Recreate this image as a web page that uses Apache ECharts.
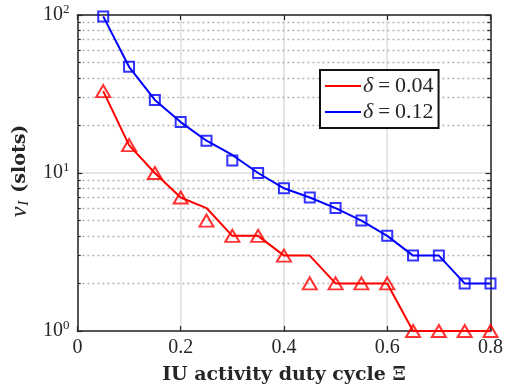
<!DOCTYPE html>
<html>
<head>
<meta charset="utf-8">
<script src="https://cdn.jsdelivr.net/npm/echarts@6/dist/echarts.min.js"></script>
<style>
  html, body { margin: 0; padding: 0; background: #fff; }
  #chart { width: 506px; height: 392px; }
</style>
</head>
<body>
<div id="chart"></div>
<script>
// Duty cycle of the IU activity (x axis)
const dutyCycle = [0.05, 0.1, 0.15, 0.2, 0.25, 0.3, 0.35, 0.4, 0.45, 0.5, 0.55, 0.6, 0.65, 0.7, 0.75, 0.8];
// delta = 0.04: curve and simulated points
const curveLow = [33, 15, 10, 7, 6, 4, 4, 3, 3, 2, 2, 2, 1, 1, 1, 1];
const pointsLow = [33, 15, 10, 7, 5, 4, 4, 3, 2, 2, 2, 2, 1, 1, 1, 1];
// delta = 0.12: curve and simulated points
const curveHigh = [98, 47, 29, 21, 16, 13, 10, 8, 7, 6, 5, 4, 3, 3, 2, 2];
const pointsHigh = [98, 47, 29, 21, 16, 12, 10, 8, 7, 6, 5, 4, 3, 3, 2, 2];
// Axis settings
const xTicks = [0, 0.2, 0.4, 0.6, 0.8];
const yMinorGrid = [2, 3, 4, 5, 6, 7, 8, 9, 20, 30, 40, 50, 60, 70, 80, 90];
const seriesNames = ['δ = 0.04', 'δ = 0.12'];

const ink = '#262626';
const serif = 'Liberation Serif';
const xMin = xTicks[0], xMax = xTicks[xTicks.length - 1];
const pair = (ys) => dutyCycle.map((x, i) => [x, ys[i]]);

// dotted minor grid across the plot
const minorGridLines = yMinorGrid.map(v => [{ coord: [xMin, v] }, { coord: [xMax, v] }]);
// short minor ticks on the left and right frame
const tickLen = 0.0065;
const minorTickLines = [];
yMinorGrid.forEach(v => {
  minorTickLines.push([{ coord: [xMin, v] }, { coord: [xMin + tickLen, v] }]);
  minorTickLines.push([{ coord: [xMax - tickLen, v] }, { coord: [xMax, v] }]);
});

const chart = echarts.init(document.getElementById('chart'), null, { renderer: 'canvas' });

const baseX = {
  type: 'value', min: xMin, max: xMax, interval: 0.2,
  axisLine: { show: true, onZero: false, lineStyle: { color: ink, width: 1.5 } },
  axisTick: { show: true, inside: true, length: 5, lineStyle: { color: ink, width: 1.2 } }
};
const baseY = {
  type: 'log', logBase: 10, min: 1, max: 100,
  axisLine: { show: true, onZero: false, lineStyle: { color: ink, width: 1.5 } },
  axisTick: { show: true, inside: true, length: 5, lineStyle: { color: ink, width: 1.2 } }
};

chart.setOption({
  animation: false,
  backgroundColor: '#fff',
  grid: { left: 77, right: 15, top: 15, bottom: 61 },
  xAxis: [
    Object.assign({}, baseX, {
      position: 'bottom',
      axisLabel: { fontFamily: serif, fontSize: 20, color: ink, margin: 7 },
      splitLine: { show: true, lineStyle: { color: '#dedede', width: 1.5 } },
      name: 'IU activity duty cycle Ξ',
      nameLocation: 'middle', nameGap: 35,
      nameTextStyle: { fontFamily: 'DejaVu Serif', fontWeight: 'bold', fontSize: 19, color: ink }
    }),
    Object.assign({}, baseX, {
      position: 'top',
      axisLabel: { show: false },
      splitLine: { show: false }
    })
  ],
  yAxis: [
    Object.assign({}, baseY, {
      position: 'left',
      axisLabel: {
        margin: 8,
        formatter: v => '{b|10}{s|' + Math.round(Math.log10(v)) + '}',
        rich: {
          b: { fontFamily: serif, fontSize: 20, color: ink, lineHeight: 24 },
          s: { fontFamily: serif, fontSize: 13, color: ink, verticalAlign: 'top', lineHeight: 14 }
        }
      },
      splitLine: { show: true, lineStyle: { color: '#dedede', width: 1.5 } },
      name: '{n|ν}{i|I}{t|(slots)}',
      nameLocation: 'middle', nameGap: 44, nameRotate: 90,
      nameTextStyle: {
        padding: [0, 0, 0, 4],
        rich: {
          n: { fontFamily: serif, fontStyle: 'italic', fontSize: 24, color: ink },
          i: { fontFamily: serif, fontStyle: 'italic', fontSize: 15, color: ink, verticalAlign: 'bottom', padding: [8, 0, 0, 1] },
          t: { fontFamily: 'DejaVu Serif', fontWeight: 'bold', fontSize: 19, color: ink, padding: [0, 0, 0, 8] }
        }
      }
    }),
    Object.assign({}, baseY, {
      position: 'right',
      axisLabel: { show: false },
      splitLine: { show: false }
    })
  ],
  legend: {
    data: seriesNames,
    orient: 'vertical',
    left: 320, top: 70,
    padding: [5, 5, 5, 5],
    itemGap: 4,
    icon: 'rect',
    itemWidth: 36, itemHeight: 2,
    backgroundColor: '#fff',
    borderColor: '#111', borderWidth: 2, borderRadius: 0,
    selectedMode: false,
    formatter: name => '{d|δ}{e|=}{v|' + name.split('=')[1].trim() + '}',
    textStyle: {
      color: ink, lineHeight: 22, padding: [0, 0, 0, -3],
      rich: {
        d: { fontFamily: serif, fontStyle: 'italic', fontSize: 22, color: ink },
        e: { fontFamily: serif, fontSize: 21, color: ink, padding: [0, 5, 0, 5] },
        v: { fontFamily: serif, fontSize: 22, color: ink }
      }
    }
  },
  series: [
    {
      name: seriesNames[0], type: 'line', data: pair(curveLow),
      symbol: 'none', z: 3, silent: true,
      lineStyle: { color: '#ff0000', width: 2 }, itemStyle: { color: '#ff0000' },
      markLine: {
        silent: true, symbol: ['none', 'none'], z: 1, label: { show: false },
        lineStyle: { color: '#b4b4b4', width: 1.3, type: [2, 3] },
        data: minorGridLines
      }
    },
    {
      name: seriesNames[1], type: 'line', data: pair(curveHigh),
      symbol: 'none', z: 3, silent: true,
      lineStyle: { color: '#0000ff', width: 2 }, itemStyle: { color: '#0000ff' },
      markLine: {
        silent: true, symbol: ['none', 'none'], z: 2, label: { show: false },
        lineStyle: { color: ink, width: 1.2, type: 'solid' },
        data: minorTickLines
      }
    },
    {
      name: 'pointsLow', type: 'scatter', data: pair(pointsLow),
      symbol: 'triangle', symbolSize: [14, 12], z: 4, silent: true,
      itemStyle: { color: 'rgba(0,0,0,0)', borderColor: '#ff0000', borderWidth: 2 }
    },
    {
      name: 'pointsHigh', type: 'scatter', data: pair(pointsHigh),
      symbol: 'rect', symbolSize: 10, z: 4, silent: true,
      itemStyle: { color: 'rgba(0,0,0,0)', borderColor: '#0000ff', borderWidth: 2 }
    }
  ]
});
</script>
</body>
</html>
